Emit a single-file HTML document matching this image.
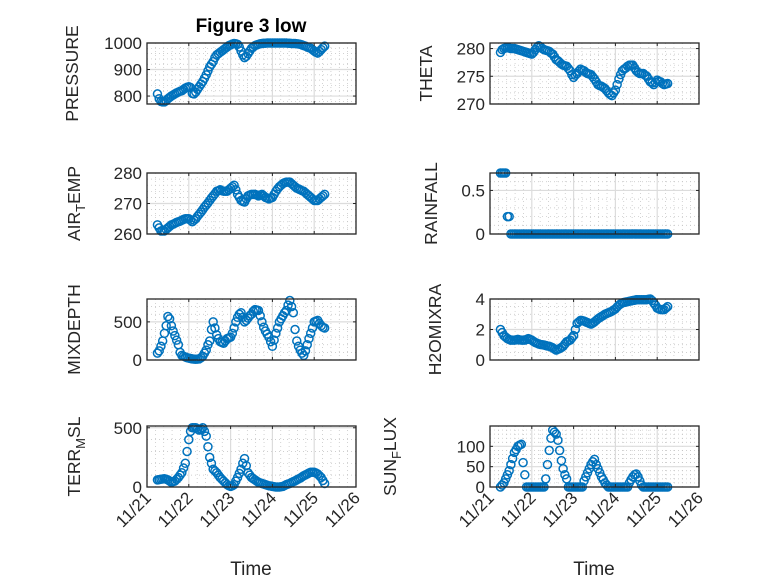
<!DOCTYPE html>
<html><head><meta charset="utf-8"><style>
body{margin:0;background:#fff;}
svg{display:block;font-family:"Liberation Sans",sans-serif;}
</style></head><body>
<svg id="fig" width="778" height="583" viewBox="0 0 778 583" xmlns="http://www.w3.org/2000/svg">
<rect width="778" height="583" fill="#fff"/>
<text x="251" y="32" text-anchor="middle" font-size="19" font-weight="bold" fill="#000">Figure 3 low</text>
<text x="251" y="575" text-anchor="middle" font-size="19" fill="#262626">Time</text>
<text x="594" y="575" text-anchor="middle" font-size="19" fill="#262626">Time</text>
</svg>
<script>
const startDay = 0.25;
const stepDay = 1/24;
const xTickLabels = ["11/21","11/22","11/23","11/24","11/25","11/26"];
const pressure = [808,790,780,778,778,782,790,795,800,804,808,812,815,818,820,825,830,833,835,832,810,808,815,825,835,845,855,867,880,895,910,920,930,945,955,960,965,970,975,980,985,990,993,996,998,997,995,985,970,955,945,950,960,970,980,985,990,993,995,997,998,999,999,1000,1000,1000,1000,1000,1000,1000,1000,1000,1000,1000,1000,999,999,998,998,998,997,996,995,993,990,988,985,982,980,975,970,965,962,968,975,982,988];
const theta = [279.3,279.8,280,280.1,280.2,280.1,280,280,280,279.9,279.8,279.7,279.6,279.5,279.4,279.3,279.2,279.1,279,279.3,279.8,280.2,280.5,280.3,280,279.8,279.7,279.6,279.5,279.2,279,278.5,278,277.8,277.5,277.2,277,276.9,276.8,276.4,276,275.3,274.8,275.2,275.5,275.9,276.3,276.1,276,275.7,275.5,275.4,275.3,274.9,274.5,274,273.5,273.3,273.2,273,272.8,272.4,272,271.7,271.5,272,272.5,273.5,274.5,275.3,276,276.3,276.5,276.8,277,277,277,276.5,276,275.7,275.5,275.5,275.5,275.2,275,274.5,274,273.8,273.5,273.9,274.3,274.1,274,273.7,273.5,273.6,273.7];
const airTemp = [263,262,261,261,261,261.5,262,262.5,263,263.2,263.5,263.8,264,264.2,264.5,264.8,265,265,265,264.5,264,264.5,265,265.8,266.5,267.2,268,268.8,269.5,270.2,271,271.8,272.5,273.2,274,274.2,274.5,274.2,274,274,274,274.5,275,275.5,276,274.5,273,272,271,270.7,270.5,271.5,272.5,272.8,273,273,273,272.8,272.5,272.8,273,272.5,272,271.8,271.5,271.8,272,273,274,274.8,275.5,276,276.5,276.8,277,277,277,276.5,276,275.5,275,274.8,274.5,274.2,274,273.5,273,272.5,272,271.5,271,271,271,271.5,272,272.5,273];
const rainfall = [0.7,0.7,0.7,0.7,0.2,0.2,0,0,0,0,0,0,0,0,0,0,0,0,0,0,0,0,0,0,0,0,0,0,0,0,0,0,0,0,0,0,0,0,0,0,0,0,0,0,0,0,0,0,0,0,0,0,0,0,0,0,0,0,0,0,0,0,0,0,0,0,0,0,0,0,0,0,0,0,0,0,0,0,0,0,0,0,0,0,0,0,0,0,0,0,0,0,0,0,0,0,0];
const mixDepth = [90,120,180,250,350,450,570,540,450,380,320,260,200,100,60,50,40,30,25,20,15,12,10,12,15,30,50,90,130,200,250,400,500,420,330,280,240,230,220,250,280,290,300,350,420,500,560,600,620,560,500,520,550,580,600,640,660,655,650,580,500,430,380,340,300,240,180,260,350,420,500,540,580,620,650,720,780,700,620,400,250,180,130,90,60,120,200,280,350,420,500,510,520,480,450,430,420];
const h2oMix = [2.0,1.8,1.6,1.5,1.4,1.35,1.3,1.3,1.3,1.32,1.35,1.32,1.3,1.3,1.3,1.35,1.4,1.35,1.3,1.22,1.15,1.1,1.05,1.02,1.0,0.98,0.95,0.92,0.9,0.85,0.8,0.72,0.65,0.7,0.75,0.82,0.9,1.05,1.2,1.25,1.3,1.45,1.6,2.0,2.4,2.5,2.6,2.58,2.55,2.5,2.45,2.4,2.35,2.42,2.5,2.6,2.7,2.78,2.85,2.92,3.0,3.05,3.1,3.15,3.2,3.28,3.35,3.48,3.6,3.68,3.75,3.78,3.8,3.82,3.85,3.88,3.9,3.92,3.95,3.95,3.95,3.95,3.95,3.95,3.95,3.98,4.0,3.9,3.75,3.6,3.4,3.35,3.3,3.3,3.3,3.4,3.5];
const terrMsl = [60,62,65,68,70,65,60,50,40,45,50,65,80,100,120,160,200,300,400,470,500,500,500,490,480,490,500,470,430,340,250,200,150,135,120,100,80,65,50,35,20,10,5,10,20,50,80,115,150,200,240,180,120,100,80,70,60,50,40,35,30,25,20,15,10,8,5,2,0,0,0,2,5,12,20,25,30,38,45,52,60,68,75,85,95,102,110,118,125,125,125,118,110,95,80,55,30];
const sunFlux = [0,5,10,20,30,40,55,70,85,92,100,103,105,60,30,0,0,0,0,0,0,0,0,0,0,0,20,55,90,120,140,135,130,115,90,65,45,30,20,0,0,0,0,0,0,0,0,0,15,25,35,45,55,62,68,55,45,35,25,18,10,5,0,0,0,0,0,0,0,0,0,0,0,0,10,18,25,30,32,25,15,5,0,0,0,0,0,0,0,0,0,0,0,0,0,0,0];

const NS="http://www.w3.org/2000/svg";
const svg=document.getElementById('fig');
function mk(tag,attrs,parent){const e=document.createElementNS(NS,tag);for(const k in attrs)e.setAttribute(k,attrs[k]);(parent||svg).appendChild(e);return e;}

const panels=[
 {name:'pressure',data:pressure,x0:147,y0:43,ylim:[770,1000],yticks:[800,900,1000],ytl:["800","900","1000"],minor:20,label:['PRESSURE'],lx:78},
 {name:'theta',data:theta,x0:490,y0:43,ylim:[270,281],yticks:[270,275,280],ytl:["270","275","280"],minor:1,label:['THETA'],lx:432},
 {name:'air-temp',data:airTemp,x0:147,y0:173,ylim:[260,280],yticks:[260,270,280],ytl:["260","270","280"],minor:2,label:['AIR','T','EMP'],lx:80},
 {name:'rainfall',data:rainfall,x0:490,y0:173,ylim:[0,0.7],yticks:[0,0.5],ytl:["0","0.5"],minor:0.1,label:['RAINFALL'],lx:437},
 {name:'mixdepth',data:mixDepth,x0:147,y0:299,ylim:[0,800],yticks:[0,500],ytl:["0","500"],minor:100,label:['MIXDEPTH'],lx:80},
 {name:'h2omixra',data:h2oMix,x0:490,y0:299,ylim:[0,4],yticks:[0,2,4],ytl:["0","2","4"],minor:0.5,label:['H2OMIXRA'],lx:441},
 {name:'terr-msl',data:terrMsl,x0:147,y0:426,ylim:[0,515],yticks:[0,500],ytl:["0","500"],minor:100,label:['TERR','M','SL'],lx:80},
 {name:'sun-flux',data:sunFlux,x0:490,y0:426,ylim:[0,150],yticks:[0,50,100],ytl:["0","50","100"],minor:10,label:['SUN','F','LUX'],lx:396}
];
const W=209,H=61;
panels.forEach((p,pi)=>{
 const g=mk('g',{});
 
 
 const xs=d=>p.x0+d/5*W;
 const ys=v=>p.y0+H-(v-p.ylim[0])/(p.ylim[1]-p.ylim[0])*H;
 mk('rect',{x:p.x0,y:p.y0,width:W,height:H,fill:'#fff'},g);
 for(let d=0.2;d<5;d+=0.2){ if(Math.abs(d-Math.round(d))<0.01)continue;
  mk('line',{x1:xs(d),x2:xs(d),y1:p.y0,y2:p.y0+H,stroke:'#c0c0c0','stroke-width':0.7,'stroke-dasharray':'1,3'},g);}
 const start=Math.ceil(p.ylim[0]/p.minor)*p.minor;
 for(let v=start;v<p.ylim[1];v+=p.minor){ if(p.yticks.some(t=>Math.abs(t-v)<1e-6))continue;
  mk('line',{x1:p.x0,x2:p.x0+W,y1:ys(v),y2:ys(v),stroke:'#c0c0c0','stroke-width':0.7,'stroke-dasharray':'1,3'},g);}
 for(let d=1;d<5;d++) mk('line',{x1:xs(d),x2:xs(d),y1:p.y0,y2:p.y0+H,stroke:'#dcdcdc','stroke-width':1.2},g);
 p.yticks.forEach(v=>mk('line',{x1:p.x0,x2:p.x0+W,y1:ys(v),y2:ys(v),stroke:'#dcdcdc','stroke-width':1.2},g));
 p.data.forEach((v,i)=>{
  const c=mk('circle',{cx:xs(startDay+i*stepDay),cy:ys(v),r:4,fill:'none',stroke:'#0072BD','stroke-width':1.5},g);
  
  
 });
 mk('rect',{x:p.x0,y:p.y0,width:W,height:H,fill:'none',stroke:'#262626','stroke-width':1.3},g);
 for(let d=0;d<=5;d++){mk('line',{x1:xs(d),x2:xs(d),y1:p.y0+H,y2:p.y0+H-3,stroke:'#262626'},g);mk('line',{x1:xs(d),x2:xs(d),y1:p.y0,y2:p.y0+3,stroke:'#262626'},g);}
 p.yticks.forEach((v,i)=>{
  mk('line',{x1:p.x0,x2:p.x0+3,y1:ys(v),y2:ys(v),stroke:'#262626'},g);
  mk('line',{x1:p.x0+W,x2:p.x0+W-3,y1:ys(v),y2:ys(v),stroke:'#262626'},g);
  const t=mk('text',{x:p.x0-5,y:ys(v)+6,'text-anchor':'end','font-size':17,fill:'#262626'},g);
  t.textContent=p.ytl[i];
  
  
 });
 const cy=p.y0+H/2;
 const yl=mk('text',{x:p.lx,y:cy,'text-anchor':'middle','font-size':17.5,fill:'#262626',transform:`rotate(-90 ${p.lx} ${cy})`},g);
 
 
 if(p.label.length===1){yl.textContent=p.label[0];}
 else{
  const a=mk('tspan',{},yl);a.textContent=p.label[0];
  const b=mk('tspan',{dy:5,'font-size':13},yl);b.textContent=p.label[1];
  const c=mk('tspan',{dy:-5},yl);c.textContent=p.label[2];
 }
 if(pi>=6){
  xTickLabels.forEach((s,i)=>{
   const tx=xs(i)+5, ty=p.y0+H+12;
   const t=mk('text',{x:tx,y:ty,'text-anchor':'end','font-size':17,fill:'#262626',transform:`rotate(-45 ${tx} ${ty})`},g);
   t.textContent=s;
   
   
  });
 }
});
</script>
</body></html>
